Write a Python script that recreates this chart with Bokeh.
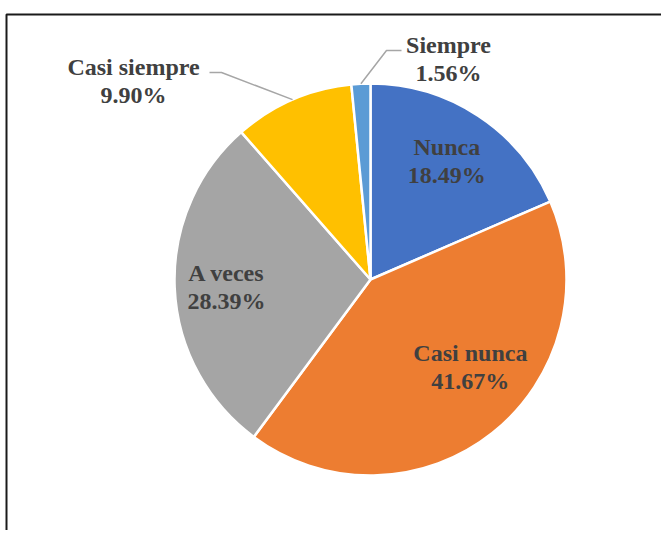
import math
from bokeh.plotting import figure
from bokeh.models import Range1d
from bokeh.core.properties import value
from bokeh.embed import file_html
from bokeh.resources import INLINE

categories = ["Nunca", "Casi nunca", "A veces", "Casi siempre", "Siempre"]
percents = [18.49, 41.67, 28.39, 9.90, 1.56]
colors = ["#4472C4", "#ED7D31", "#A5A5A5", "#FFC000", "#5B9BD5"]

W, H = 661, 530
p = figure(width=W, height=H, output_backend="svg", toolbar_location=None,
           x_range=Range1d(1, 1 + W), y_range=Range1d(538 - H, 538),
           min_border=0, outline_line_color=None)
p.axis.visible = False
p.grid.visible = False
p.background_fill_color = "white"
p.border_fill_color = "white"

def Y(ypx):
    return 538 - ypx

# frame
p.line([7, 7, 700], [Y(600), Y(14), Y(14)], line_color="#1a1a1a", line_width=2)

cx, cy, R = 371, Y(279), 196
total = sum(percents)
starts, ends, mids = [], [], []
acc = 0.0
for v in percents:
    a0 = math.pi / 2 - 2 * math.pi * acc / total
    acc += v
    a1 = math.pi / 2 - 2 * math.pi * acc / total
    starts.append(a0)
    ends.append(a1)
    mids.append((a0 + a1) / 2)

p.wedge(x=[cx] * len(percents), y=[cy] * len(percents), radius=R,
        start_angle=starts, end_angle=ends, direction="clock",
        fill_color=colors, line_color="white", line_width=2.5)

font = value("Liberation Serif")
fs = "24px"
tc = "#404040"

def label(x, y, name, pct):
    p.text(x=[x, x], y=[y + 14, y - 14], text=[name, f"{pct:.2f}%"],
           text_font=font, text_font_style="bold", text_font_size=fs,
           text_color=tc, text_align="center", text_baseline="middle")

# inside labels (radial factor, pixel nudge)
inside_r = [0.71, 0.68, 0.74]
nudge = [(0, 2), (17, 17), (1, -2)]
for i in range(3):
    lx = cx + R * inside_r[i] * math.cos(mids[i]) + nudge[i][0]
    ly = cy + R * inside_r[i] * math.sin(mids[i]) + nudge[i][1]
    label(lx, ly, categories[i], percents[i])

# outside labels with leader lines
out = {3: (134, Y(80), 210, 222), 4: (449, Y(58), 402, 387)}
for i, (lx, ly, tx0, tx1) in out.items():
    label(lx, ly, categories[i], percents[i])
    ex = cx + R * math.cos(mids[i])
    ey = cy + R * math.sin(mids[i])
    hy = ly + 8
    p.line([tx0, tx1, ex], [hy, hy, ey], line_color="#A6A6A6", line_width=1.5)

open("out.html", "w").write(file_html(p, INLINE))
